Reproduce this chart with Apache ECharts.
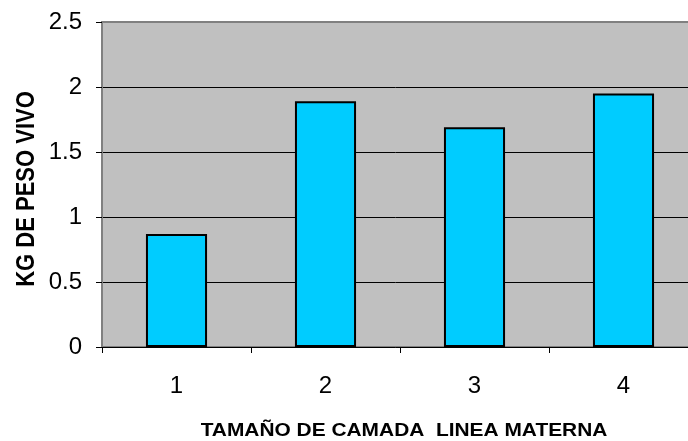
<!DOCTYPE html>
<html><head><meta charset="utf-8">
<script src="https://cdn.jsdelivr.net/npm/echarts@6/dist/echarts.min.js"></script>
<style>html,body{margin:0;padding:0;background:#fff;overflow:hidden}#c{width:688px;height:441px}</style>
</head><body><div id="c"></div>
<script>
const categories = ['1', '2', '3', '4'];
const values = [0.87, 1.89, 1.69, 1.95];
const yTicks = [0, 0.5, 1, 1.5, 2, 2.5];
const yTitle = 'KG DE PESO VIVO';
const xTitle = 'TAMAÑO DE CAMADA  LINEA MATERNA';

const chart = echarts.init(document.getElementById('c'), null, {renderer: 'canvas'});
const font = '"Liberation Sans", Arial, sans-serif';
chart.setOption({
  animation: false,
  grid: {left: 102, top: 22, width: 596, height: 325, show: true, containLabel: false,
    outerBoundsMode: 'none',
    backgroundColor: '#C0C0C0', borderColor: '#808080', borderWidth: 2},
  xAxis: {
    type: 'category', data: categories,
    axisLine: {lineStyle: {color: '#000', width: 1}},
    axisTick: {show: true, length: 6, lineStyle: {color: '#000'}},
    axisLabel: {color: '#000', fontSize: 24, fontFamily: font, margin: 27}
  },
  yAxis: {
    type: 'value', min: yTicks[0], max: yTicks[yTicks.length - 1], interval: 0.5,
    axisLine: {show: true, lineStyle: {color: '#808080', width: 1}},
    axisTick: {show: true, length: 6, lineStyle: {color: '#000'}},
    axisLabel: {color: '#000', fontSize: 24, fontFamily: font, margin: 20},
    splitLine: {show: true, showMinLine: false, showMaxLine: false, lineStyle: {color: '#000', width: 1}}
  },
  series: [{
    type: 'bar', data: values, barWidth: '41%',
    itemStyle: {color: '#00CCFF', borderColor: '#000', borderWidth: 2}
  }],
  graphic: [
    {type: 'text', x: 27, y: 189, rotation: Math.PI / 2, scaleY: 1.13,
      style: {text: yTitle, font: 'bold 22px ' + font, fill: '#000', align: 'center', verticalAlign: 'middle'}},
    {type: 'text', x: 404, y: 431, scaleX: 1.1,
      style: {text: xTitle, font: 'bold 19px ' + font, fill: '#000', align: 'center', verticalAlign: 'middle'}}
  ]
});
</script></body></html>
